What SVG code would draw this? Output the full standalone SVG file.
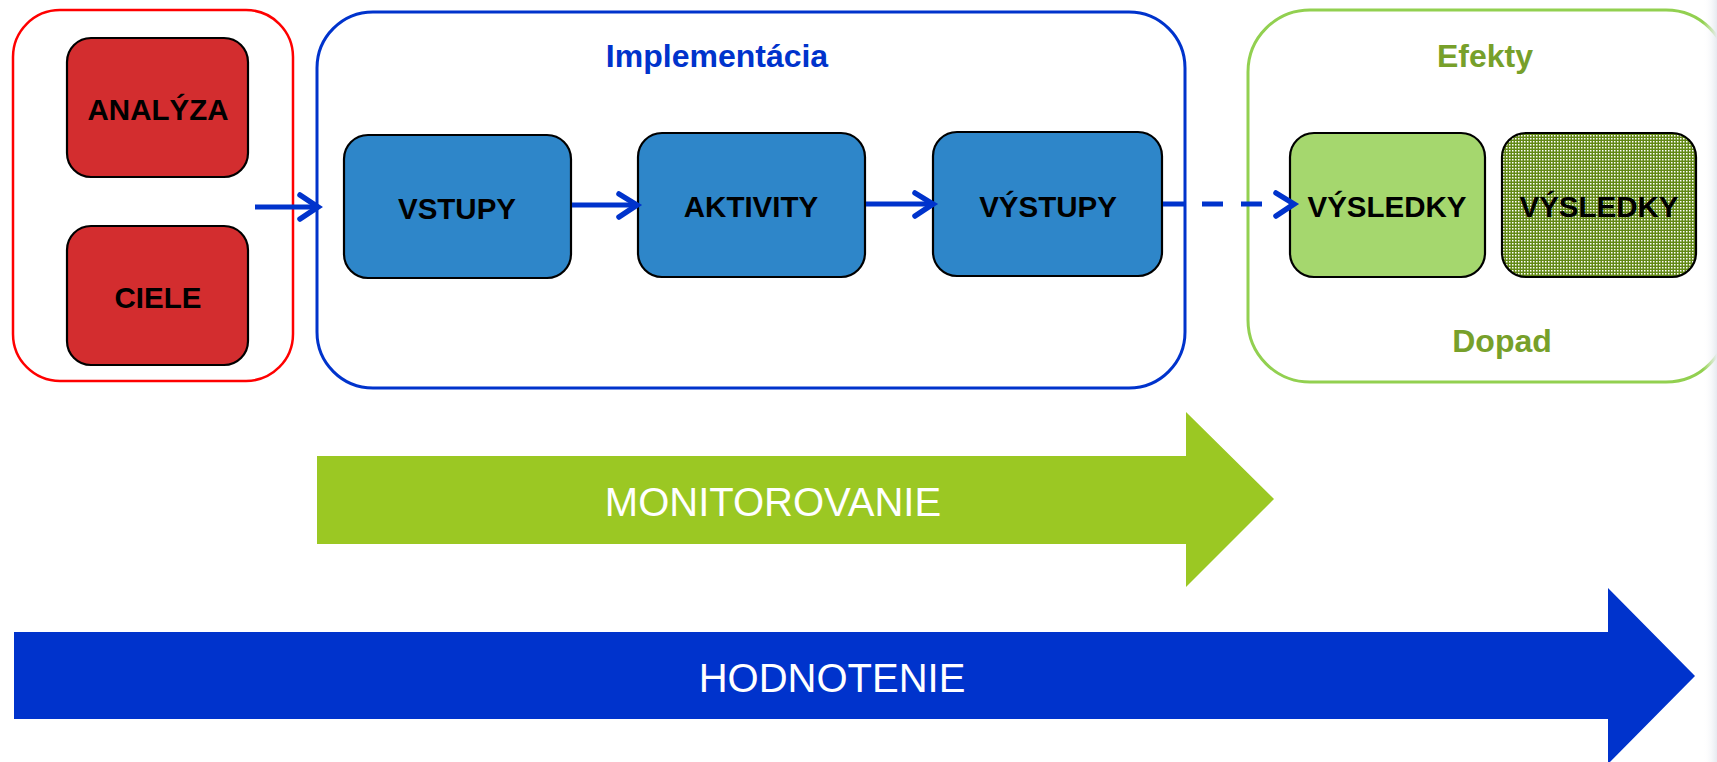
<svg xmlns="http://www.w3.org/2000/svg" width="1717" height="762" viewBox="0 0 1717 762">
<style>
.box{stroke:#000;stroke-width:2.2}
.lbl{font-family:"Liberation Sans",Arial,sans-serif;font-weight:bold;font-size:29.5px;fill:#000;text-anchor:middle}
.title{font-family:"Liberation Sans",Arial,sans-serif;font-weight:bold;font-size:32px;text-anchor:middle}
.big{font-family:"Liberation Sans",Arial,sans-serif;font-size:40px;fill:#fff;text-anchor:middle}
.conn{stroke:#0033cc;stroke-width:5;fill:none;stroke-linecap:butt}
.head{stroke:#0033cc;stroke-width:5.5;fill:none;stroke-linecap:round;stroke-linejoin:miter}
</style>
<defs>
<pattern id="dots" width="3" height="3" patternUnits="userSpaceOnUse">
<rect width="3" height="3" fill="#628815"/>
<rect x="0" y="0" width="1.5" height="1.5" fill="#ffffff"/>
</pattern>
<linearGradient id="edge" x1="0" y1="0" x2="1" y2="0">
<stop offset="0" stop-color="#ffffff" stop-opacity="0"/>
<stop offset="1" stop-color="#e6eaf0" stop-opacity="1"/>
</linearGradient>
</defs>
<rect width="1717" height="762" fill="#fff"/>

<g id="monitorovanie">
<polygon points="317,456 1186,456 1186,412 1274,499 1186,587 1186,544 317,544" fill="#9bc823"/>
<text class="big" x="773" y="516">MONITOROVANIE</text>
</g>
<g id="hodnotenie">
<polygon points="14,632 1608,632 1608,588 1695,676 1608,764 1608,719 14,719" fill="#0033cc"/>
<text class="big" x="832" y="692">HODNOTENIE</text>
</g>

<g id="grp-analyza">
<rect x="13" y="10" width="280" height="371" rx="47" fill="#fff" stroke="#ff0000" stroke-width="2.5"/>
</g>
<g id="grp-implementacia">
<rect x="317" y="12" width="868" height="376" rx="56" fill="#fff" stroke="#0033cc" stroke-width="3"/>
<text class="title" x="717" y="67" fill="#0033cc" font-size="33">Implementácia</text>
</g>
<g id="grp-efekty">
<rect x="1248" y="10" width="480" height="372" rx="62" fill="#fff" stroke="#92d050" stroke-width="3"/>
<text class="title" x="1485" y="67" fill="#77a02a">Efekty</text>
<text class="title" x="1502" y="352" fill="#77a02a">Dopad</text>
</g>

<g id="analyza">
<rect class="box" x="67" y="38" width="181" height="139" rx="24" fill="#d32d2f"/>
<text class="lbl" x="158" y="120">ANALÝZA</text>
</g>
<g id="ciele">
<rect class="box" x="67" y="226" width="181" height="139" rx="24" fill="#d32d2f"/>
<text class="lbl" x="158" y="308">CIELE</text>
</g>
<g id="vstupy">
<rect class="box" x="344" y="135" width="227" height="143" rx="24" fill="#2e86c9"/>
<text class="lbl" x="457" y="219">VSTUPY</text>
</g>
<g id="aktivity">
<rect class="box" x="638" y="133" width="227" height="144" rx="24" fill="#2e86c9"/>
<text class="lbl" x="751" y="217">AKTIVITY</text>
</g>
<g id="vystupy">
<rect class="box" x="933" y="132" width="229" height="144" rx="24" fill="#2e86c9"/>
<text class="lbl" x="1048" y="217">VÝSTUPY</text>
</g>
<g id="vysledky1">
<rect class="box" x="1290" y="133" width="195" height="144" rx="24" fill="#a5d76e"/>
<text class="lbl" x="1387" y="217">VÝSLEDKY</text>
</g>
<g id="vysledky2">
<rect class="box" x="1502" y="133" width="194" height="144" rx="24" fill="url(#dots)"/>
<text class="lbl" x="1599" y="217">VÝSLEDKY</text>
</g>

<g id="connectors">
<line class="conn" x1="255" y1="207" x2="316" y2="207"/>
<polyline class="head" points="300,195 318,207 300,219"/>
<line class="conn" x1="572" y1="205" x2="635" y2="205"/>
<polyline class="head" points="619,194 637,205 619,217"/>
<line class="conn" x1="866" y1="204" x2="930" y2="204"/>
<polyline class="head" points="915,193 933,204 915,216"/>
<line class="conn" x1="1163" y1="204" x2="1262" y2="204" stroke-dasharray="21 18"/>
<polyline class="head" points="1276,193 1294,204 1276,216"/>
</g>

<rect x="1703" y="0" width="14" height="762" fill="url(#edge)"/>
</svg>
